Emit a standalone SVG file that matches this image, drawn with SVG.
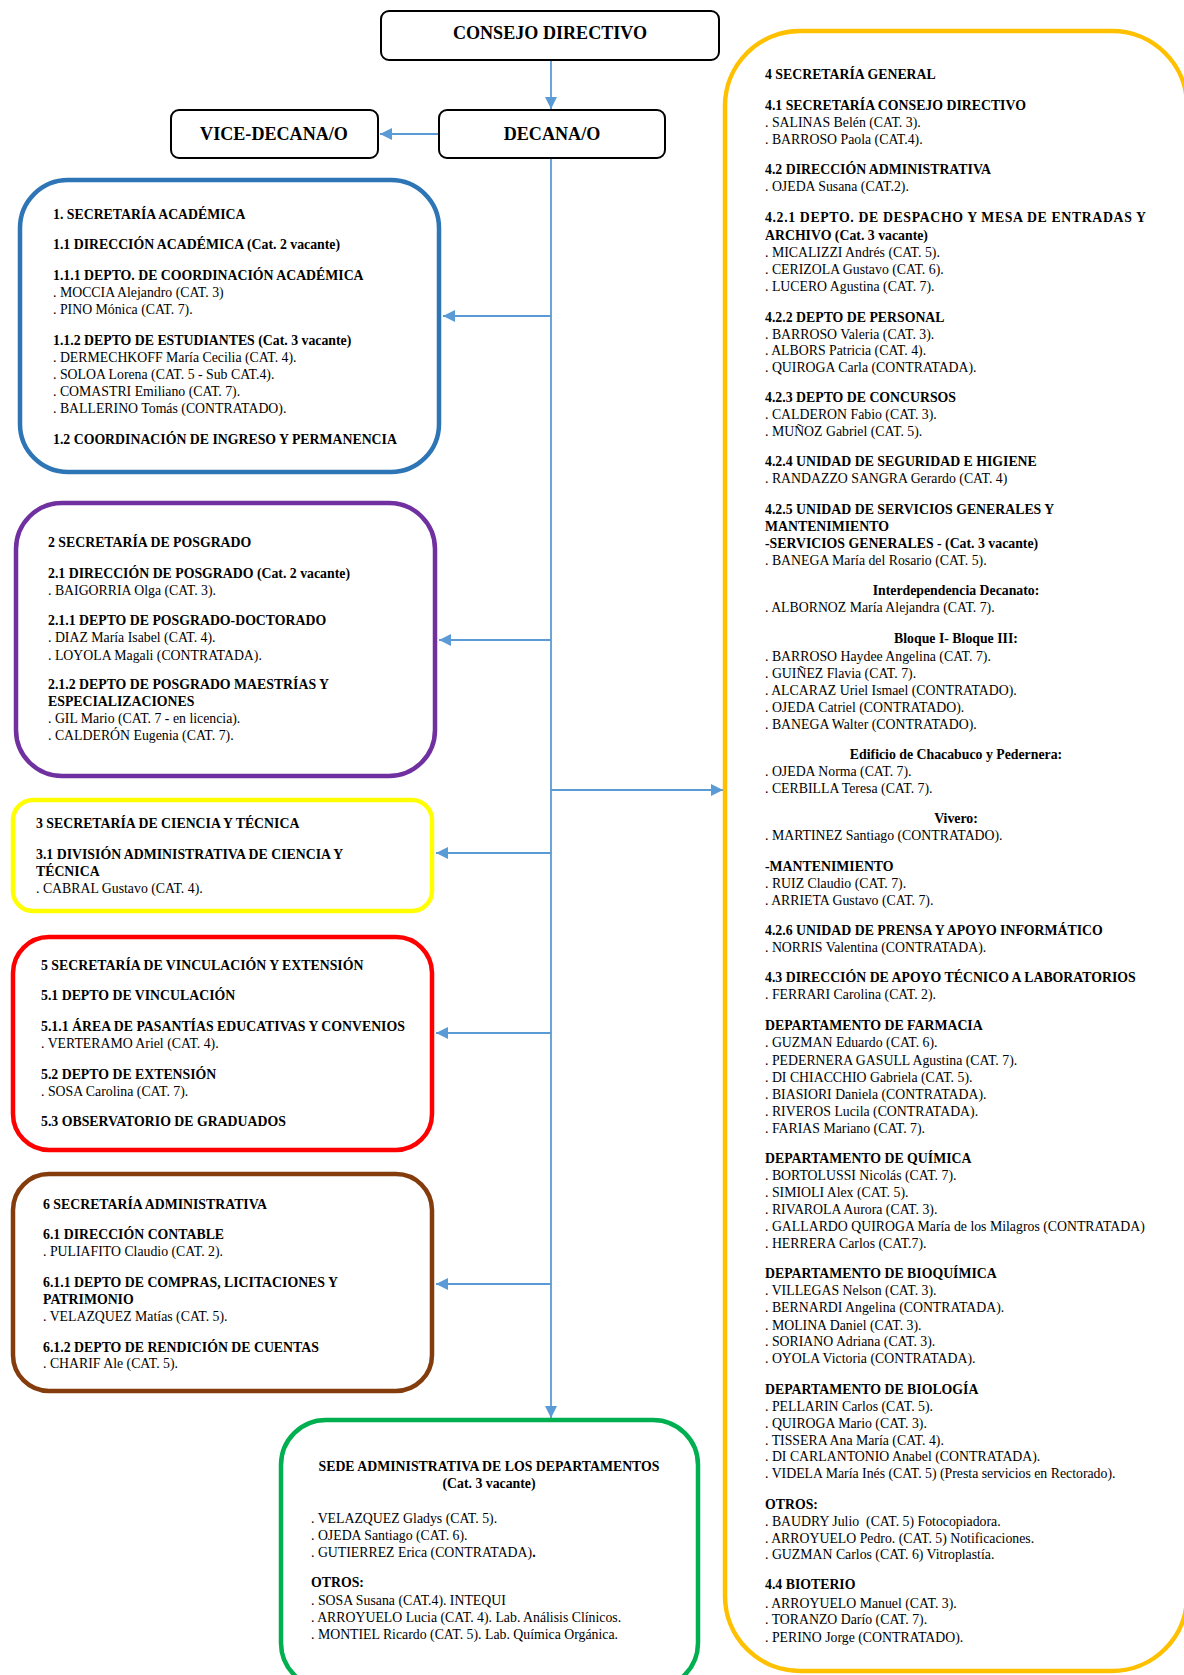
<svg xmlns="http://www.w3.org/2000/svg" width="1184" height="1675" viewBox="0 0 1184 1675">
<style>
text { font-family: "Liberation Serif", "Times New Roman", serif; fill: #000; }
.t { font-size: 13.8px; }
.b { font-weight: bold; }
.c { text-anchor: middle; }
.h { font-size: 18.1px; font-weight: bold; text-anchor: middle; }
.top { fill: #fff; stroke: #000; stroke-width: 2; }
.sec { fill: #fff; stroke-width: 4.5; }
.conn { stroke: #5B9BD5; stroke-width: 1.8; fill: none; marker-end: url(#arr); }
</style>
<defs>
<marker id="arr" viewBox="0 0 10 10" refX="10" refY="5" markerUnits="userSpaceOnUse" markerWidth="12" markerHeight="12" orient="auto">
<path d="M0,0 L10,5 L0,10 z" fill="#5B9BD5"/>
</marker>
</defs>
<rect width="1184" height="1675" fill="#fff"/>

<g id="connectors">
<path class="conn" d="M551,61 V109"/>
<path class="conn" d="M438,134 H380"/>
<path class="conn" d="M551,159 V1418"/>
<path class="conn" d="M551,316 H443"/>
<path class="conn" d="M551,640 H439"/>
<path class="conn" d="M551,853 H436"/>
<path class="conn" d="M551,1033 H436"/>
<path class="conn" d="M551,1284 H436"/>
<path class="conn" d="M551,790 H723"/>
</g>

<g id="consejo-directivo">
<rect class="top" x="381" y="11" width="338" height="49" rx="8"/>
<text class="h" x="550" y="39">CONSEJO DIRECTIVO</text>
</g>
<g id="decana">
<rect class="top" x="439" y="110" width="226" height="48" rx="8"/>
<text class="h" x="552" y="140">DECANA/O</text>
</g>
<g id="vice-decana">
<rect class="top" x="171" y="110" width="207" height="48" rx="8"/>
<text class="h" x="274" y="140">VICE-DECANA/O</text>
</g>

<g id="sec-academica">
<rect class="sec" stroke="#2E75B6" x="20" y="180" width="419" height="292" rx="48"/>
<text class="t b" x="53" y="219">1. SECRETARÍA ACADÉMICA</text>
<text class="t b" x="53" y="249">1.1 DIRECCIÓN ACADÉMICA (Cat. 2 vacante)</text>
<text class="t b" x="53" y="280">1.1.1 DEPTO. DE COORDINACIÓN ACADÉMICA</text>
<text class="t" x="53" y="297">. MOCCIA Alejandro (CAT. 3)</text>
<text class="t" x="53" y="314">. PINO Mónica (CAT. 7).</text>
<text class="t b" x="53" y="345">1.1.2 DEPTO DE ESTUDIANTES (Cat. 3 vacante)</text>
<text class="t" x="53" y="362">. DERMECHKOFF María Cecilia (CAT. 4).</text>
<text class="t" x="53" y="379">. SOLOA Lorena (CAT. 5 - Sub CAT.4).</text>
<text class="t" x="53" y="396">. COMASTRI Emiliano (CAT. 7).</text>
<text class="t" x="53" y="413">. BALLERINO Tomás (CONTRATADO).</text>
<text class="t b" x="53" y="444">1.2 COORDINACIÓN DE INGRESO Y PERMANENCIA</text>
</g>

<g id="sec-posgrado">
<rect class="sec" stroke="#7030A0" x="16" y="503" width="419" height="273" rx="46"/>
<text class="t b" x="48" y="547">2 SECRETARÍA DE POSGRADO</text>
<text class="t b" x="48" y="578">2.1 DIRECCIÓN DE POSGRADO (Cat. 2 vacante)</text>
<text class="t" x="48" y="595">. BAIGORRIA Olga (CAT. 3).</text>
<text class="t b" x="48" y="625">2.1.1 DEPTO DE POSGRADO-DOCTORADO</text>
<text class="t" x="48" y="642">. DIAZ María Isabel (CAT. 4).</text>
<text class="t" x="48" y="660">. LOYOLA Magali (CONTRATADA).</text>
<text class="t b" x="48" y="689">2.1.2 DEPTO DE POSGRADO MAESTRÍAS Y</text>
<text class="t b" x="48" y="706">ESPECIALIZACIONES</text>
<text class="t" x="48" y="723">. GIL Mario (CAT. 7 - en licencia).</text>
<text class="t" x="48" y="740">. CALDERÓN Eugenia (CAT. 7).</text>
</g>

<g id="sec-ciencia-tecnica">
<rect class="sec" stroke="#FFFF00" x="13" y="800" width="419" height="111" rx="20"/>
<text class="t b" x="36" y="828">3 SECRETARÍA DE CIENCIA Y TÉCNICA</text>
<text class="t b" x="36" y="859">3.1 DIVISIÓN ADMINISTRATIVA DE CIENCIA Y</text>
<text class="t b" x="36" y="876">TÉCNICA</text>
<text class="t" x="36" y="893">. CABRAL Gustavo (CAT. 4).</text>
</g>

<g id="sec-vinculacion">
<rect class="sec" stroke="#FF0000" x="13" y="937" width="419" height="213" rx="36"/>
<text class="t b" x="41" y="970">5 SECRETARÍA DE VINCULACIÓN Y EXTENSIÓN</text>
<text class="t b" x="41" y="1000">5.1 DEPTO DE VINCULACIÓN</text>
<text class="t b" x="41" y="1031">5.1.1 ÁREA DE PASANTÍAS EDUCATIVAS Y CONVENIOS</text>
<text class="t" x="41" y="1048">. VERTERAMO Ariel (CAT. 4).</text>
<text class="t b" x="41" y="1079">5.2 DEPTO DE EXTENSIÓN</text>
<text class="t" x="41" y="1096">. SOSA Carolina (CAT. 7).</text>
<text class="t b" x="41" y="1126">5.3 OBSERVATORIO DE GRADUADOS</text>
</g>

<g id="sec-administrativa">
<rect class="sec" stroke="#843C0C" x="13" y="1174" width="419" height="217" rx="36"/>
<text class="t b" x="43" y="1209">6 SECRETARÍA ADMINISTRATIVA</text>
<text class="t b" x="43" y="1239">6.1 DIRECCIÓN CONTABLE</text>
<text class="t" x="43" y="1256">. PULIAFITO Claudio (CAT. 2).</text>
<text class="t b" x="43" y="1287">6.1.1 DEPTO DE COMPRAS, LICITACIONES Y</text>
<text class="t b" x="43" y="1304">PATRIMONIO</text>
<text class="t" x="43" y="1321">. VELAZQUEZ Matías (CAT. 5).</text>
<text class="t b" x="43" y="1352">6.1.2 DEPTO DE RENDICIÓN DE CUENTAS</text>
<text class="t" x="43" y="1368">. CHARIF Ale (CAT. 5).</text>
</g>

<g id="sede-departamentos">
<rect class="sec" stroke="#00B050" x="281" y="1420" width="417" height="268" rx="45"/>
<text class="t b c" x="489" y="1471">SEDE ADMINISTRATIVA DE LOS DEPARTAMENTOS</text>
<text class="t b c" x="489" y="1488">(Cat. 3 vacante)</text>
<text class="t" x="311" y="1523">. VELAZQUEZ Gladys (CAT. 5).</text>
<text class="t" x="311" y="1540">. OJEDA Santiago (CAT. 6).</text>
<text class="t" x="311" y="1557">. GUTIERREZ Erica (CONTRATADA)<tspan class="b">.</tspan></text>
<text class="t b" x="311" y="1587">OTROS:</text>
<text class="t" x="311" y="1605">. SOSA Susana (CAT.4). INTEQUI</text>
<text class="t" x="311" y="1622">. ARROYUELO Lucia (CAT. 4). Lab. Análisis Clínicos.</text>
<text class="t" x="311" y="1639">. MONTIEL Ricardo (CAT. 5). Lab. Química Orgánica.</text>
</g>

<g id="sec-general">
<rect class="sec" stroke="#FFC000" x="725" y="31" width="462" height="1640" rx="75"/>
<text class="t b" x="765" y="79">4 SECRETARÍA GENERAL</text>
<text class="t b" x="765" y="110">4.1 SECRETARÍA CONSEJO DIRECTIVO</text>
<text class="t" x="765" y="127">. SALINAS Belén (CAT. 3).</text>
<text class="t" x="765" y="144">. BARROSO Paola (CAT.4).</text>
<text class="t b" x="765" y="174">4.2 DIRECCIÓN ADMINISTRATIVA</text>
<text class="t" x="765" y="191">. OJEDA Susana (CAT.2).</text>
<text class="t b" x="765" y="222" textLength="381" lengthAdjust="spacing">4.2.1 DEPTO. DE DESPACHO Y MESA DE ENTRADAS Y</text>
<text class="t b" x="765" y="240">ARCHIVO (Cat. 3 vacante)</text>
<text class="t" x="765" y="257">. MICALIZZI Andrés (CAT. 5).</text>
<text class="t" x="765" y="274">. CERIZOLA Gustavo (CAT. 6).</text>
<text class="t" x="765" y="291">. LUCERO Agustina (CAT. 7).</text>
<text class="t b" x="765" y="322">4.2.2 DEPTO DE PERSONAL</text>
<text class="t" x="765" y="339">. BARROSO Valeria (CAT. 3).</text>
<text class="t" x="765" y="355">. ALBORS Patricia (CAT. 4).</text>
<text class="t" x="765" y="372">. QUIROGA Carla (CONTRATADA).</text>
<text class="t b" x="765" y="402">4.2.3 DEPTO DE CONCURSOS</text>
<text class="t" x="765" y="419">. CALDERON Fabio (CAT. 3).</text>
<text class="t" x="765" y="436">. MUÑOZ Gabriel (CAT. 5).</text>
<text class="t b" x="765" y="466">4.2.4 UNIDAD DE SEGURIDAD E HIGIENE</text>
<text class="t" x="765" y="483">. RANDAZZO SANGRA Gerardo (CAT. 4)</text>
<text class="t b" x="765" y="514">4.2.5 UNIDAD DE SERVICIOS GENERALES Y</text>
<text class="t b" x="765" y="531">MANTENIMIENTO</text>
<text class="t b" x="765" y="548">-SERVICIOS GENERALES - (Cat. 3 vacante)</text>
<text class="t" x="765" y="565">. BANEGA María del Rosario (CAT. 5).</text>
<text class="t b c" x="956" y="595">Interdependencia Decanato:</text>
<text class="t" x="765" y="612">. ALBORNOZ María Alejandra (CAT. 7).</text>
<text class="t b c" x="956" y="643">Bloque I- Bloque III:</text>
<text class="t" x="765" y="661">. BARROSO Haydee Angelina (CAT. 7).</text>
<text class="t" x="765" y="678">. GUIÑEZ Flavia (CAT. 7).</text>
<text class="t" x="765" y="695">. ALCARAZ Uriel Ismael (CONTRATADO).</text>
<text class="t" x="765" y="712">. OJEDA Catriel (CONTRATADO).</text>
<text class="t" x="765" y="729">. BANEGA Walter (CONTRATADO).</text>
<text class="t b c" x="956" y="759">Edificio de Chacabuco y Pedernera:</text>
<text class="t" x="765" y="776">. OJEDA Norma (CAT. 7).</text>
<text class="t" x="765" y="793">. CERBILLA Teresa (CAT. 7).</text>
<text class="t b c" x="956" y="823">Vivero:</text>
<text class="t" x="765" y="840">. MARTINEZ Santiago (CONTRATADO).</text>
<text class="t b" x="765" y="871">-MANTENIMIENTO</text>
<text class="t" x="765" y="888">. RUIZ Claudio (CAT. 7).</text>
<text class="t" x="765" y="905">. ARRIETA Gustavo (CAT. 7).</text>
<text class="t b" x="765" y="935">4.2.6 UNIDAD DE PRENSA Y APOYO INFORMÁTICO</text>
<text class="t" x="765" y="952">. NORRIS Valentina (CONTRATADA).</text>
<text class="t b" x="765" y="982">4.3 DIRECCIÓN DE APOYO TÉCNICO A LABORATORIOS</text>
<text class="t" x="765" y="999">. FERRARI Carolina (CAT. 2).</text>
<text class="t b" x="765" y="1030">DEPARTAMENTO DE FARMACIA</text>
<text class="t" x="765" y="1047">. GUZMAN Eduardo (CAT. 6).</text>
<text class="t" x="765" y="1065">. PEDERNERA GASULL Agustina (CAT. 7).</text>
<text class="t" x="765" y="1082">. DI CHIACCHIO Gabriela (CAT. 5).</text>
<text class="t" x="765" y="1099">. BIASIORI Daniela (CONTRATADA).</text>
<text class="t" x="765" y="1116">. RIVEROS Lucila (CONTRATADA).</text>
<text class="t" x="765" y="1133">. FARIAS Mariano (CAT. 7).</text>
<text class="t b" x="765" y="1163">DEPARTAMENTO DE QUÍMICA</text>
<text class="t" x="765" y="1180">. BORTOLUSSI Nicolás (CAT. 7).</text>
<text class="t" x="765" y="1197">. SIMIOLI Alex (CAT. 5).</text>
<text class="t" x="765" y="1214">. RIVAROLA Aurora (CAT. 3).</text>
<text class="t" x="765" y="1231">. GALLARDO QUIROGA María de los Milagros (CONTRATADA)</text>
<text class="t" x="765" y="1248">. HERRERA Carlos (CAT.7).</text>
<text class="t b" x="765" y="1278">DEPARTAMENTO DE BIOQUÍMICA</text>
<text class="t" x="765" y="1295">. VILLEGAS Nelson (CAT. 3).</text>
<text class="t" x="765" y="1312">. BERNARDI Angelina (CONTRATADA).</text>
<text class="t" x="765" y="1330">. MOLINA Daniel (CAT. 3).</text>
<text class="t" x="765" y="1346">. SORIANO Adriana (CAT. 3).</text>
<text class="t" x="765" y="1363">. OYOLA Victoria (CONTRATADA).</text>
<text class="t b" x="765" y="1394">DEPARTAMENTO DE BIOLOGÍA</text>
<text class="t" x="765" y="1411">. PELLARIN Carlos (CAT. 5).</text>
<text class="t" x="765" y="1428">. QUIROGA Mario (CAT. 3).</text>
<text class="t" x="765" y="1445">. TISSERA Ana María (CAT. 4).</text>
<text class="t" x="765" y="1461">. DI CARLANTONIO Anabel (CONTRATADA).</text>
<text class="t" x="765" y="1478">. VIDELA María Inés (CAT. 5) (Presta servicios en Rectorado).</text>
<text class="t b" x="765" y="1509">OTROS:</text>
<text class="t" x="765" y="1526">. BAUDRY Julio&#160; (CAT. 5) Fotocopiadora.</text>
<text class="t" x="765" y="1543">. ARROYUELO Pedro. (CAT. 5) Notificaciones.</text>
<text class="t" x="765" y="1559">. GUZMAN Carlos (CAT. 6) Vitroplastía.</text>
<text class="t b" x="765" y="1589">4.4 BIOTERIO</text>
<text class="t" x="765" y="1608">. ARROYUELO Manuel (CAT. 3).</text>
<text class="t" x="765" y="1624">. TORANZO Darío (CAT. 7).</text>
<text class="t" x="765" y="1642">. PERINO Jorge (CONTRATADO).</text>
</g>
</svg>
